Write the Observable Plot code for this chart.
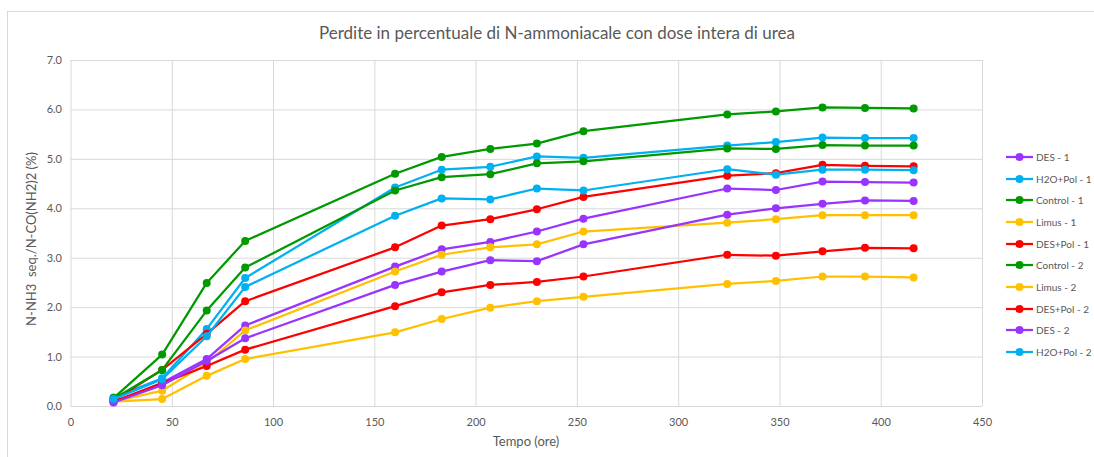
<!DOCTYPE html>
<html>
<head>
<meta charset="utf-8">
<script src="https://cdn.jsdelivr.net/npm/d3@7"></script>
<script src="https://cdn.jsdelivr.net/npm/@observablehq/plot@0.6"></script>
<style>
  html, body { margin: 0; padding: 0; background: #fff; }
  #chart { position: relative; width: 1094px; height: 457px; overflow: hidden; font-family: Lato, "Open Sans", sans-serif; color: #595959; }
  #frame { position: absolute; left: 7px; top: 11px; width: 1100px; height: 460px; border: 1px solid #d9d9d9; box-sizing: border-box; }
  #title { position: absolute; left: 10px; top: 22px; width: 1094px; text-align: center; font-size: 17px; color: #595959; }
  #ylabel { position: absolute; left: 31px; top: 239px; transform: translate(-50%, -50%) rotate(-90deg); white-space: pre; font-size: 13px; }
  #xlabel { position: absolute; left: 526px; top: 433px; transform: translateX(-50%); font-size: 13px; }
  #legend { position: absolute; left: 1005px; top: 146px; }
  .item { height: 21.7px; display: flex; align-items: center; font-size: 10px; white-space: nowrap; }
  .item svg { margin-right: 2px; }
  #plot { position: absolute; left: 0; top: 0; }
</style>
</head>
<body>
<div id="chart">
  <div id="frame"></div>
  <div id="plot"></div>
  <div id="title">Perdite in percentuale di N-ammoniacale con dose intera di urea</div>
  <div id="ylabel">N-NH3  seq./N-CO(NH2)2 (%)</div>
  <div id="xlabel">Tempo (ore)</div>
  <div id="legend"></div>
</div>
<script>
// Sampling times (hours)
const hours = [21, 45, 67, 86, 160, 183, 207, 230, 253, 324, 348, 371, 392, 416];

// Cumulative N-NH3 losses (%) per treatment and replicate
const des1      = [0.09, 0.48, 0.96, 1.64, 2.83, 3.18, 3.33, 3.54, 3.80, 4.41, 4.38, 4.55, 4.54, 4.53];
const h2oPol1   = [0.18, 0.57, 1.57, 2.60, 4.43, 4.79, 4.85, 5.06, 5.03, 5.28, 5.35, 5.44, 5.43, 5.43];
const control1  = [0.17, 1.05, 2.50, 3.35, 4.71, 5.05, 5.21, 5.32, 5.57, 5.91, 5.97, 6.05, 6.04, 6.03];
const limus1    = [0.10, 0.32, 0.88, 1.54, 2.73, 3.07, 3.22, 3.28, 3.54, 3.72, 3.79, 3.87, 3.87, 3.87];
const desPol1   = [0.12, 0.74, 1.47, 2.13, 3.22, 3.66, 3.79, 3.99, 4.24, 4.67, 4.72, 4.89, 4.87, 4.86];
const control2  = [0.15, 0.74, 1.94, 2.81, 4.37, 4.64, 4.70, 4.92, 4.96, 5.22, 5.21, 5.29, 5.28, 5.28];
const limus2    = [0.10, 0.15, 0.62, 0.96, 1.50, 1.77, 2.00, 2.13, 2.22, 2.48, 2.54, 2.63, 2.63, 2.61];
const desPol2   = [0.10, 0.47, 0.82, 1.15, 2.03, 2.31, 2.46, 2.52, 2.63, 3.07, 3.05, 3.14, 3.21, 3.20];
const des2      = [0.08, 0.43, 0.92, 1.38, 2.46, 2.73, 2.96, 2.94, 3.28, 3.88, 4.01, 4.10, 4.17, 4.16];
const h2oPol2   = [0.15, 0.55, 1.42, 2.42, 3.86, 4.21, 4.19, 4.41, 4.37, 4.80, 4.69, 4.79, 4.79, 4.78];

const seriesNames = ["DES - 1", "H2O+Pol - 1", "Control - 1", "Limus - 1", "DES+Pol - 1",
                     "Control - 2", "Limus - 2", "DES+Pol - 2", "DES - 2", "H2O+Pol - 2"];
const seriesValues = [des1, h2oPol1, control1, limus1, desPol1, control2, limus2, desPol2, des2, h2oPol2];
const seriesColors = ["#9933ff", "#00b0f0", "#009900", "#ffc000", "#ff0000",
                      "#009900", "#ffc000", "#ff0000", "#9933ff", "#00b0f0"];

const yTicks = [0, 1, 2, 3, 4, 5, 6, 7];
const xTicks = [0, 50, 100, 150, 200, 250, 300, 350, 400, 450];

const rows = seriesNames.flatMap((name, i) =>
  hours.map((h, j) => ({series: name, hours: h, value: seriesValues[i][j]})));

const plot = Plot.plot({
  width: 1094,
  height: 457,
  marginLeft: 70.5,
  marginRight: 112,
  marginTop: 60,
  marginBottom: 51,
  style: {fontFamily: "Lato, 'Open Sans', sans-serif", fontSize: "11px", color: "#595959", background: "transparent"},
  x: {domain: [0, 450], ticks: xTicks, label: null},
  y: {domain: [0, 7], ticks: yTicks, label: null},
  color: {domain: seriesNames, range: seriesColors, legend: false},
  marks: [
    Plot.gridX(xTicks, {stroke: "#d9d9d9", strokeOpacity: 1, strokeWidth: 1}),
    Plot.gridY(yTicks, {stroke: "#d9d9d9", strokeOpacity: 1, strokeWidth: 1}),
    Plot.axisX(xTicks, {tickSize: 0, tickPadding: 12, fill: "#595959", fontSize: 11}),
    Plot.axisY(yTicks, {tickSize: 0, tickPadding: 9, fill: "#595959", fontSize: 11, tickFormat: d => d.toFixed(1)}),
    // each series: line first, then its markers, in legend order
    ...seriesNames.flatMap(name => [
      Plot.line(rows.filter(d => d.series === name), {x: "hours", y: "value", stroke: "series", strokeWidth: 2.25}),
      Plot.dot(rows.filter(d => d.series === name), {x: "hours", y: "value", fill: "series", r: 4})
    ])
  ]
});
document.getElementById("plot").appendChild(plot);

// Legend entries: line with a marker, followed by the series name
const legend = d3.select("#legend");
seriesNames.forEach((name, i) => {
  const item = legend.append("div").attr("class", "item");
  const svg = item.append("svg").attr("width", 29).attr("height", 10);
  svg.append("line").attr("x1", 1).attr("x2", 28).attr("y1", 5).attr("y2", 5)
    .attr("stroke", seriesColors[i]).attr("stroke-width", 2.25);
  svg.append("circle").attr("cx", 14.5).attr("cy", 5).attr("r", 4).attr("fill", seriesColors[i]);
  item.append("span").text(name);
});
</script>
</body>
</html>
